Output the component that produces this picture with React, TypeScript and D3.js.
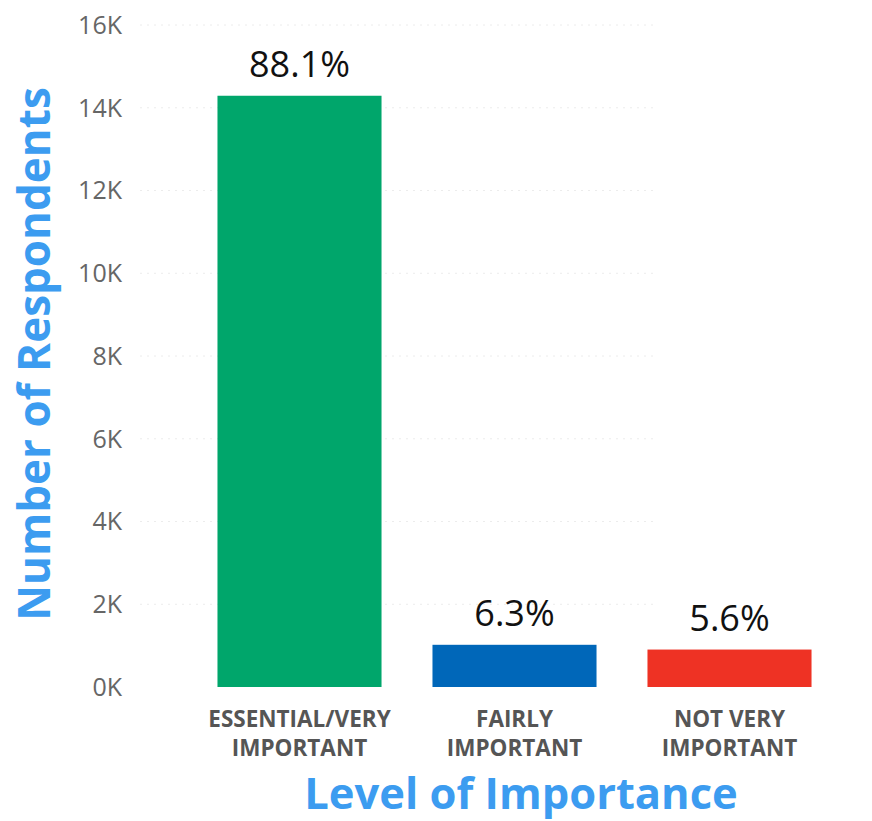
import React from "react";
import * as d3 from "d3";

const categories = ["ESSENTIAL/VERY IMPORTANT", "FAIRLY IMPORTANT", "NOT VERY IMPORTANT"];
const categoryLines = [["ESSENTIAL/VERY", "IMPORTANT"], ["FAIRLY", "IMPORTANT"], ["NOT VERY", "IMPORTANT"]];
const respondents = [14290, 1020, 905];
const percentLabels = ["88.1%", "6.3%", "5.6%"];
const barColors = ["#00A66B", "#0067B9", "#EE3224"];
const yTicks = [0, 2000, 4000, 6000, 8000, 10000, 12000, 14000, 16000];
const yTickLabels = ["0K", "2K", "4K", "6K", "8K", "10K", "12K", "14K", "16K"];

const W = 872;
const H = 821;
const FONT = "'Open Sans', 'Noto Sans', sans-serif";
const BLUE = "#3C9CF0";

export default function App() {
  const y = d3.scaleLinear().domain([0, 16000]).range([687, 25]);
  const x = d3
    .scaleBand<string>()
    .domain(categories)
    .range([192, 837])
    .paddingInner(0.237)
    .paddingOuter(0.1185);

  return (
    <svg
      width={W}
      height={H}
      viewBox={`0 0 ${W} ${H}`}
      style={{ position: "fixed", left: 0, top: 0, background: "#fff" }}
      fontFamily={FONT}
    >
      {yTicks.map((t, i) => (
        <g key={t}>
          {t > 0 && (
            <line
              x1={140}
              x2={655}
              y1={y(t)}
              y2={y(t)}
              stroke="#ececec"
              strokeWidth={1}
              strokeDasharray="2,5"
            />
          )}
          <text
            x={122}
            y={y(t)}
            dy="0.35em"
            textAnchor="end"
            fontSize={25}
            fill="#666"
          >
            {yTickLabels[i]}
          </text>
        </g>
      ))}

      {categories.map((c, i) => (
        <g key={c}>
          <rect
            x={x(c)}
            y={y(respondents[i])}
            width={x.bandwidth()}
            height={y(0) - y(respondents[i])}
            fill={barColors[i]}
          />
          <text
            x={(x(c) as number) + x.bandwidth() / 2}
            y={y(respondents[i]) - 19}
            textAnchor="middle"
            fontSize={36}
            fill="#111"
          >
            {percentLabels[i]}
          </text>
          {categoryLines[i].map((ln, j) => (
            <text
              key={j}
              x={(x(c) as number) + x.bandwidth() / 2}
              y={727 + j * 29}
              textAnchor="middle"
              fontSize={22.5}
              fontWeight={700}
              fill="#555"
            >
              {ln}
            </text>
          ))}
        </g>
      ))}

      <text
        x={521}
        y={809}
        textAnchor="middle"
        fontSize={43.5}
        fontWeight={700}
        fill={BLUE}
      >
        Level of Importance
      </text>
      <text
        transform={`translate(50, 354) rotate(-90)`}
        textAnchor="middle"
        fontSize={44}
        fontWeight={700}
        fill={BLUE}
      >
        Number of Respondents
      </text>
    </svg>
  );
}
